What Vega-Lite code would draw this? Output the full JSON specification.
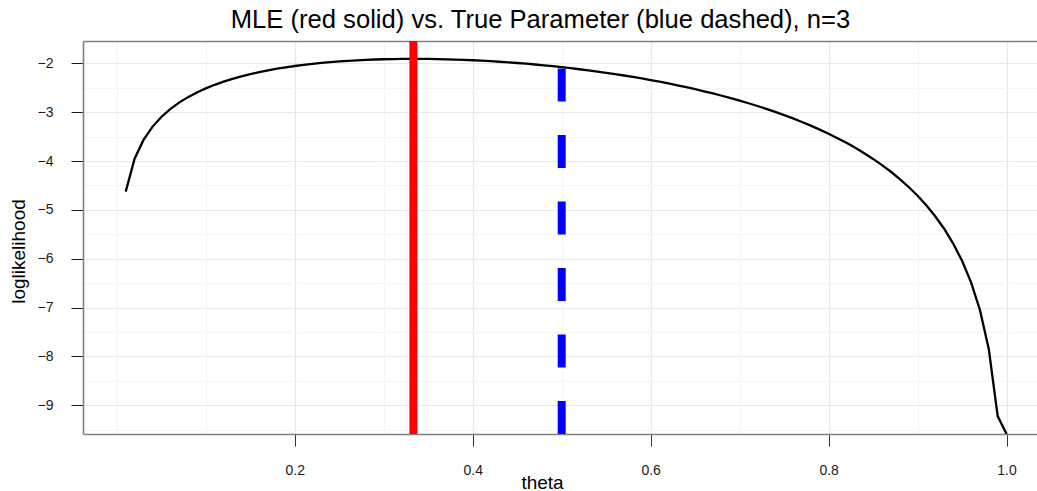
{
  "$schema": "https://vega.github.io/schema/vega-lite/v6.json",
  "width": 954,
  "height": 393,
  "autosize": {"type": "none"},
  "padding": {"left": 83, "top": 41, "right": 0, "bottom": 57},
  "background": "white",
  "config": {
    "view": {"stroke": null},
    "font": "Liberation Sans"
  },
  "title": {
    "text": "MLE (red solid) vs. True Parameter (blue dashed), n=3",
    "font": "Liberation Sans",
    "fontSize": 25.6,
    "fontWeight": "normal",
    "color": "black",
    "anchor": "middle",
    "frame": "group",
    "baseline": "alphabetic",
    "dx": -19.5,
    "offset": -17
  },
  "datasets": {
    "curve": [
      {"theta": 0.01, "loglik": -4.6253},
      {"theta": 0.02, "loglik": -3.9524},
      {"theta": 0.03, "loglik": -3.5675},
      {"theta": 0.04, "loglik": -3.3005},
      {"theta": 0.05, "loglik": -3.0983},
      {"theta": 0.06, "loglik": -2.9372},
      {"theta": 0.07, "loglik": -2.8044},
      {"theta": 0.08, "loglik": -2.6925},
      {"theta": 0.09, "loglik": -2.5966},
      {"theta": 0.10, "loglik": -2.5133},
      {"theta": 0.11, "loglik": -2.4403},
      {"theta": 0.12, "loglik": -2.3759},
      {"theta": 0.13, "loglik": -2.3187},
      {"theta": 0.14, "loglik": -2.2678},
      {"theta": 0.15, "loglik": -2.2222},
      {"theta": 0.16, "loglik": -2.1813},
      {"theta": 0.17, "loglik": -2.1446},
      {"theta": 0.18, "loglik": -2.1117},
      {"theta": 0.19, "loglik": -2.0822},
      {"theta": 0.20, "loglik": -2.0557},
      {"theta": 0.21, "loglik": -2.0321},
      {"theta": 0.22, "loglik": -2.0111},
      {"theta": 0.23, "loglik": -1.9924},
      {"theta": 0.24, "loglik": -1.9760},
      {"theta": 0.25, "loglik": -1.9617},
      {"theta": 0.26, "loglik": -1.9493},
      {"theta": 0.27, "loglik": -1.9388},
      {"theta": 0.28, "loglik": -1.9300},
      {"theta": 0.29, "loglik": -1.9228},
      {"theta": 0.30, "loglik": -1.9173},
      {"theta": 0.31, "loglik": -1.9133},
      {"theta": 0.32, "loglik": -1.9108},
      {"theta": 0.33, "loglik": -1.9096},
      {"theta": 0.34, "loglik": -1.9098},
      {"theta": 0.35, "loglik": -1.9114},
      {"theta": 0.36, "loglik": -1.9142},
      {"theta": 0.37, "loglik": -1.9183},
      {"theta": 0.38, "loglik": -1.9237},
      {"theta": 0.39, "loglik": -1.9302},
      {"theta": 0.40, "loglik": -1.9380},
      {"theta": 0.41, "loglik": -1.9469},
      {"theta": 0.42, "loglik": -1.9570},
      {"theta": 0.43, "loglik": -1.9682},
      {"theta": 0.44, "loglik": -1.9806},
      {"theta": 0.45, "loglik": -1.9942},
      {"theta": 0.46, "loglik": -2.0089},
      {"theta": 0.47, "loglik": -2.0248},
      {"theta": 0.48, "loglik": -2.0418},
      {"theta": 0.49, "loglik": -2.0600},
      {"theta": 0.50, "loglik": -2.0794},
      {"theta": 0.51, "loglik": -2.1000},
      {"theta": 0.52, "loglik": -2.1219},
      {"theta": 0.53, "loglik": -2.1449},
      {"theta": 0.54, "loglik": -2.1693},
      {"theta": 0.55, "loglik": -2.1949},
      {"theta": 0.56, "loglik": -2.2218},
      {"theta": 0.57, "loglik": -2.2501},
      {"theta": 0.58, "loglik": -2.2797},
      {"theta": 0.59, "loglik": -2.3108},
      {"theta": 0.60, "loglik": -2.3434},
      {"theta": 0.61, "loglik": -2.3775},
      {"theta": 0.62, "loglik": -2.4132},
      {"theta": 0.63, "loglik": -2.4505},
      {"theta": 0.64, "loglik": -2.4896},
      {"theta": 0.65, "loglik": -2.5304},
      {"theta": 0.66, "loglik": -2.5731},
      {"theta": 0.67, "loglik": -2.6178},
      {"theta": 0.68, "loglik": -2.6645},
      {"theta": 0.69, "loglik": -2.7134},
      {"theta": 0.70, "loglik": -2.7646},
      {"theta": 0.71, "loglik": -2.8182},
      {"theta": 0.72, "loglik": -2.8744},
      {"theta": 0.73, "loglik": -2.9334},
      {"theta": 0.74, "loglik": -2.9953},
      {"theta": 0.75, "loglik": -3.0603},
      {"theta": 0.76, "loglik": -3.1287},
      {"theta": 0.77, "loglik": -3.2007},
      {"theta": 0.78, "loglik": -3.2767},
      {"theta": 0.79, "loglik": -3.3570},
      {"theta": 0.80, "loglik": -3.4420},
      {"theta": 0.81, "loglik": -3.5322},
      {"theta": 0.82, "loglik": -3.6281},
      {"theta": 0.83, "loglik": -3.7303},
      {"theta": 0.84, "loglik": -3.8395},
      {"theta": 0.85, "loglik": -3.9568},
      {"theta": 0.86, "loglik": -4.0830},
      {"theta": 0.87, "loglik": -4.2197},
      {"theta": 0.88, "loglik": -4.3683},
      {"theta": 0.89, "loglik": -4.5311},
      {"theta": 0.90, "loglik": -4.7105},
      {"theta": 0.91, "loglik": -4.9102},
      {"theta": 0.92, "loglik": -5.1348},
      {"theta": 0.93, "loglik": -5.3911},
      {"theta": 0.94, "loglik": -5.6887},
      {"theta": 0.95, "loglik": -6.0428},
      {"theta": 0.96, "loglik": -6.4786},
      {"theta": 0.97, "loglik": -7.0436},
      {"theta": 0.98, "loglik": -7.8442},
      {"theta": 0.99, "loglik": -9.2204},
      {"theta": 1.00, "loglik": -9.586}
    ],
    "params": [
      {"theta": 0.3333333, "kind": "MLE"},
      {"theta": 0.5, "kind": "True"}
    ]
  },
  "resolve": {"axis": {"x": "independent"}},
  "layer": [
    {
      "data": {"name": "curve"},
      "mark": {"type": "line", "color": "black", "strokeWidth": 2.3, "clip": true},
      "encoding": {
        "x": {
          "field": "theta",
          "type": "quantitative",
          "scale": {"domain": [-0.038, 1.0342], "nice": false, "zero": false},
          "axis": {
            "title": "theta",
            "values": [0, 0.1, 0.2, 0.3, 0.4, 0.5, 0.6, 0.7, 0.8, 0.9, 1.0],
            "labelExpr": "datum.value > 0.05 && round(datum.value*10) % 2 == 0 ? format(datum.value, '.1f') : ''",
            "labelOverlap": false,
            "labelFlush": false,
            "grid": true,
            "gridColor": {"condition": {"test": "datum.value > 0.05 && round(datum.value*10) % 2 == 0", "value": "#e8e8e8"}, "value": "#f5f5f5"},
            "gridWidth": 1.2,
            "tickOpacity": {"condition": {"test": "datum.value > 0.05 && round(datum.value*10) % 2 == 0", "value": 1}, "value": 0},
            "tickSize": 12,
            "tickColor": "#333333",
            "tickWidth": 1,
            "domainColor": "#808080",
            "domainWidth": 1.6,
            "labelFont": "Liberation Sans",
            "labelFontSize": 14,
            "labelColor": "#1a1a1a",
            "labelPadding": 17,
            "titleFont": "Liberation Sans",
            "titleFontSize": 19,
            "titleFontWeight": "normal",
            "titleColor": "black",
            "titleAlign": "center",
            "titleBaseline": "alphabetic",
            "titleX": 459,
            "titleY": 54
          }
        },
        "y": {
          "field": "loglik",
          "type": "quantitative",
          "scale": {"domain": [-9.586, -1.544], "nice": false, "zero": false},
          "axis": {
            "title": "loglikelihood",
            "values": [-9.5, -9, -8.5, -8, -7.5, -7, -6.5, -6, -5.5, -5, -4.5, -4, -3.5, -3, -2.5, -2],
            "labelExpr": "datum.value == round(datum.value) ? format(datum.value, 'd') : ''",
            "labelOverlap": false,
            "labelFlush": false,
            "grid": true,
            "gridColor": {"condition": {"test": "datum.value == round(datum.value)", "value": "#e8e8e8"}, "value": "#f5f5f5"},
            "gridWidth": 1.2,
            "tickOpacity": {"condition": {"test": "datum.value == round(datum.value)", "value": 1}, "value": 0},
            "tickSize": 12,
            "tickColor": "#1a1a1a",
            "tickWidth": 1,
            "domainColor": "#808080",
            "domainWidth": 1.6,
            "labelFont": "Liberation Sans",
            "labelFontSize": 14,
            "labelColor": "#1a1a1a",
            "labelPadding": 18,
            "titleFont": "Liberation Sans",
            "titleFontSize": 19,
            "titleFontWeight": "normal",
            "titleColor": "black",
            "titleAngle": -90,
            "titleAlign": "center",
            "titleBaseline": "alphabetic",
            "titleX": -59,
            "titleY": 210
          }
        }
      }
    },
    {
      "data": {"name": "params"},
      "transform": [{"filter": "datum.kind == 'MLE'"}],
      "mark": {"type": "rule", "color": "#ff0000", "strokeWidth": 8, "strokeCap": "butt"},
      "encoding": {
        "x": {
          "field": "theta",
          "type": "quantitative",
          "axis": {
            "orient": "top",
            "title": null,
            "labels": false,
            "ticks": false,
            "grid": false,
            "domainColor": "#808080",
            "domainWidth": 1.6
          }
        },
        "y": {"value": "height"},
        "y2": {"value": 0}
      }
    },
    {
      "data": {"name": "params"},
      "transform": [{"filter": "datum.kind == 'True'"}],
      "mark": {"type": "rule", "color": "#0000ff", "strokeWidth": 8, "strokeCap": "butt", "strokeDash": [33, 33.5]},
      "encoding": {
        "x": {"field": "theta", "type": "quantitative", "axis": null},
        "y": {"value": "height"},
        "y2": {"value": 0}
      }
    }
  ]
}
